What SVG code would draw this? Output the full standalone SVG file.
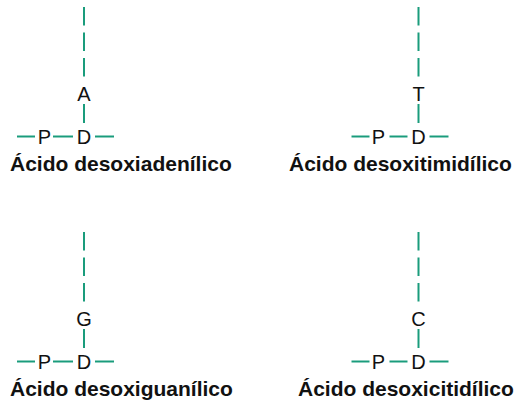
<svg xmlns="http://www.w3.org/2000/svg" width="518" height="406" viewBox="0 0 518 406">
<style>
.ln{stroke:#1a9c7c;stroke-width:2;fill:none}
.dash{stroke-dasharray:18.5 7}
.lt{font-family:"Liberation Sans",Arial,sans-serif;font-size:20px;fill:#111;text-anchor:middle}
.lab{font-family:"Liberation Sans",Arial,sans-serif;font-size:21px;font-weight:bold;fill:#111}
</style>
<rect width="518" height="406" fill="#fff"/>
<g id="connectors">
  <g transform="translate(84,0)">
    <line class="ln dash" x1="0" y1="7" x2="0" y2="77"/>
    <line class="ln" x1="0" y1="104" x2="0" y2="123"/>
    <line class="ln" x1="-67" y1="136.5" x2="-49" y2="136.5"/>
    <line class="ln" x1="-31" y1="136.5" x2="-11" y2="136.5"/>
    <line class="ln" x1="11" y1="136.5" x2="30" y2="136.5"/>
  </g>
  <g transform="translate(418.5,0)">
    <line class="ln dash" x1="0" y1="7" x2="0" y2="77"/>
    <line class="ln" x1="0" y1="104" x2="0" y2="123"/>
    <line class="ln" x1="-67" y1="136.5" x2="-49" y2="136.5"/>
    <line class="ln" x1="-29" y1="136.5" x2="-11" y2="136.5"/>
    <line class="ln" x1="11" y1="136.5" x2="30" y2="136.5"/>
  </g>
  <g transform="translate(84,225)">
    <line class="ln dash" x1="0" y1="7" x2="0" y2="77"/>
    <line class="ln" x1="0" y1="104" x2="0" y2="123"/>
    <line class="ln" x1="-67" y1="136.5" x2="-49" y2="136.5"/>
    <line class="ln" x1="-31" y1="136.5" x2="-11" y2="136.5"/>
    <line class="ln" x1="11" y1="136.5" x2="30" y2="136.5"/>
  </g>
  <g transform="translate(418.5,225)">
    <line class="ln dash" x1="0" y1="7" x2="0" y2="77"/>
    <line class="ln" x1="0" y1="104" x2="0" y2="123"/>
    <line class="ln" x1="-67" y1="136.5" x2="-49" y2="136.5"/>
    <line class="ln" x1="-29" y1="136.5" x2="-11" y2="136.5"/>
    <line class="ln" x1="11" y1="136.5" x2="30" y2="136.5"/>
  </g>
</g>
<g id="adenilico">
  <text class="lt" x="84" y="101">A</text>
  <text class="lt" x="44.5" y="143.5">P</text>
  <text class="lt" x="84" y="143.5">D</text>
  <text class="lab" x="10" y="171">Ácido desoxiadenílico</text>
</g>
<g id="timidilico">
  <text class="lt" x="418.5" y="101">T</text>
  <text class="lt" x="378.5" y="143.5">P</text>
  <text class="lt" x="418.5" y="143.5">D</text>
  <text class="lab" x="289" y="171">Ácido desoxitimidílico</text>
</g>
<g id="guanilico">
  <text class="lt" x="84" y="326">G</text>
  <text class="lt" x="44.5" y="368.5">P</text>
  <text class="lt" x="84" y="368.5">D</text>
  <text class="lab" x="10" y="396">Ácido desoxiguanílico</text>
</g>
<g id="citidilico">
  <text class="lt" x="418.5" y="326">C</text>
  <text class="lt" x="378.5" y="368.5">P</text>
  <text class="lt" x="418.5" y="368.5">D</text>
  <text class="lab" x="298" y="396">Ácido desoxicitidílico</text>
</g>
</svg>
